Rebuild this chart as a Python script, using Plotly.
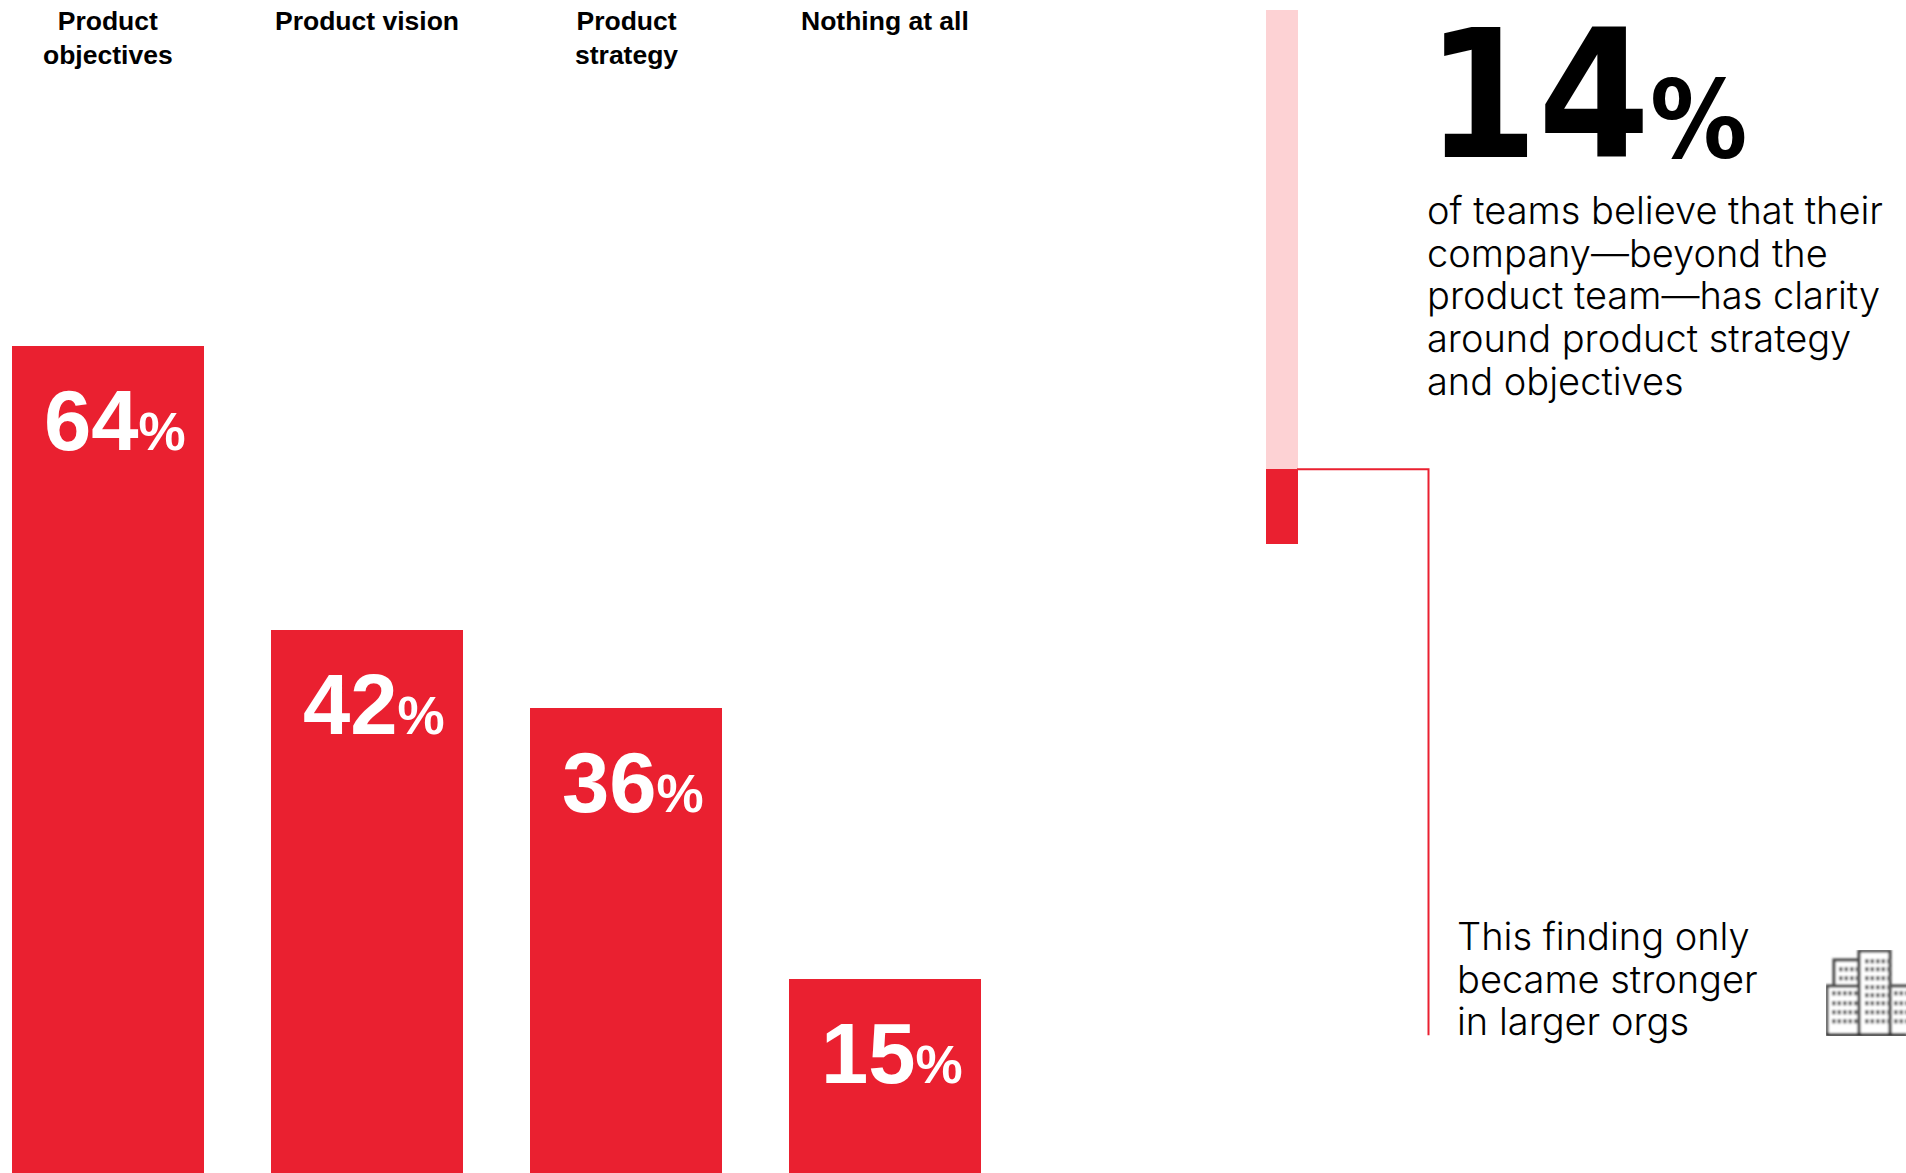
import base64
import plotly.graph_objects as go

W, H = 1906, 1173
RED = "#EA2030"
PINK = "#FDD2D4"

categories = ["Product<br>objectives", "Product vision", "Product<br>strategy", "Nothing at all"]
shares = [64, 42, 36, 15]

clarity_share = 14
clarity_rest = 86
clarity_lines = [
    "of teams believe that their",
    "company—beyond the",
    "product team—has clarity",
    "around product strategy",
    "and objectives",
]
finding_lines = ["This finding only", "became stronger", "in larger orgs"]

BODY_FONT = dict(family="Inter", size=38, color="#000000", weight=300)
LABEL_FONT = "Liberation Sans"


def px(x):
    return x / W


def py(y):
    return 1 - y / H


def building_icon():
    """Small office-block pictogram as an inline SVG, 80x85 units."""
    parts = []
    # x, y, w, h of each block, drawn back to front
    blocks = [(8, 10, 25, 40), (1, 36, 33, 49), (64, 36, 20, 49), (33, 1, 31, 84)]
    for bx, by, bw, bh in blocks:
        parts.append(
            f'<rect x="{bx}" y="{by}" width="{bw}" height="{bh}" fill="#fff" '
            'stroke="#4a4a4a" stroke-width="3.2"/>'
        )
    # x start, x end, window-row centres
    window_groups = [
        (13, 31, [19, 28]),
        (6, 31, [43, 53, 62, 71]),
        (39, 61, [11, 19, 28, 37, 45, 53, 62, 71]),
        (68, 80, [43, 53, 62, 71]),
    ]
    for x0, x1, rows in window_groups:
        for y in rows:
            xx = x0
            while xx <= x1:
                parts.append(f'<rect x="{xx}" y="{y - 2}" width="3.6" height="4.4" fill="#666"/>')
                xx += 5.5
    body = "".join(parts)
    svg = (
        '<svg xmlns="http://www.w3.org/2000/svg" width="80" height="86" viewBox="0 0 80 86">'
        '<defs><filter id="s"><feGaussianBlur stdDeviation="0.8"/></filter></defs>'
        f'<g filter="url(#s)">{body}<path d="M0 84.5H80" stroke="#333" stroke-width="2.8"/></g></svg>'
    )
    return "data:image/svg+xml;base64," + base64.b64encode(svg.encode()).decode()


fig = go.Figure()

# Left panel: the four answer shares
x_positions = list(range(len(categories)))
fig.add_trace(go.Bar(
    x=x_positions, y=shares, width=0.742,
    marker=dict(color=RED, line_width=0),
    xaxis="x", yaxis="y", hoverinfo="skip", showlegend=False,
))

# Right panel: a single stacked bar with a leader line off its top segment
fig.add_trace(go.Bar(
    x=[1281.5], y=[clarity_share], width=32,
    marker=dict(color=RED, line_width=0),
    xaxis="x2", yaxis="y2", hoverinfo="skip", showlegend=False,
))
fig.add_trace(go.Bar(
    x=[1281.5], y=[clarity_rest], width=32,
    marker=dict(color=PINK, line_width=0),
    xaxis="x2", yaxis="y2", hoverinfo="skip", showlegend=False,
))
fig.add_trace(go.Scatter(
    x=[1297, 1428.5, 1428.5], y=[clarity_share, clarity_share, -92.0],
    mode="lines", line=dict(color=RED, width=2),
    xaxis="x2", yaxis="y2", hoverinfo="skip", showlegend=False,
))

annotations = []
for i, (name, value) in enumerate(zip(categories, shares)):
    annotations.append(dict(
        x=i, y=1, xref="x", yref="paper", yanchor="top",
        yshift=-4, text=f"<b>{name}</b>", showarrow=False,
        font=dict(family=LABEL_FONT, size=26.5, color="#000000"),
    ))
    annotations.append(dict(
        x=i, y=value, xref="x", yref="y", xanchor="center", yanchor="top",
        xshift=7, yshift=-25,
        text=f'<b>{value}<span style="font-size:53px">%</span></b>',
        showarrow=False,
        font=dict(family=LABEL_FONT, size=85, color="#FFFFFF"),
    ))

annotations.append(dict(
    x=px(1424), y=py(95), xref="paper", yref="paper", xanchor="left", yanchor="middle",
    text=f'<b>{clarity_share}<span style="font-size:108px">%</span></b>', showarrow=False,
    font=dict(family="DejaVu Sans Condensed", size=179, color="#000000"),
))
for line, yc in zip(clarity_lines, [210, 253, 295, 338, 381]):
    annotations.append(dict(
        x=px(1425), y=py(yc), xref="paper", yref="paper", xanchor="left", yanchor="middle",
        text=line, showarrow=False, font=BODY_FONT,
    ))
for line, yc in zip(finding_lines, [936, 979, 1021]):
    annotations.append(dict(
        x=px(1455), y=py(yc), xref="paper", yref="paper", xanchor="left", yanchor="middle",
        text=line, showarrow=False, font=BODY_FONT,
    ))

PANEL_SPLIT = 1100
fig.update_layout(
    width=W, height=H,
    margin=dict(l=0, r=0, t=0, b=0),
    paper_bgcolor="#FFFFFF", plot_bgcolor="#FFFFFF",
    barmode="stack", showlegend=False,
    xaxis=dict(domain=[0, PANEL_SPLIT / W], range=[-108 / 259, (PANEL_SPLIT - 108) / 259], visible=False),
    yaxis=dict(domain=[0, 1], range=[0, H / 12.92], visible=False),
    xaxis2=dict(domain=[PANEL_SPLIT / W, 1], range=[PANEL_SPLIT, W], anchor="y2", visible=False),
    yaxis2=dict(domain=[0, 1], range=[(544 - H) / 5.34, 544 / 5.34], anchor="x2", visible=False),
    annotations=annotations,
    images=[dict(
        source=building_icon(), xref="paper", yref="paper",
        x=px(1826), y=py(950), sizex=px(80), sizey=86 / H,
        xanchor="left", yanchor="top", sizing="stretch", layer="above",
    )],
)

fig.write_html("out.html", config={"displayModeBar": False})
